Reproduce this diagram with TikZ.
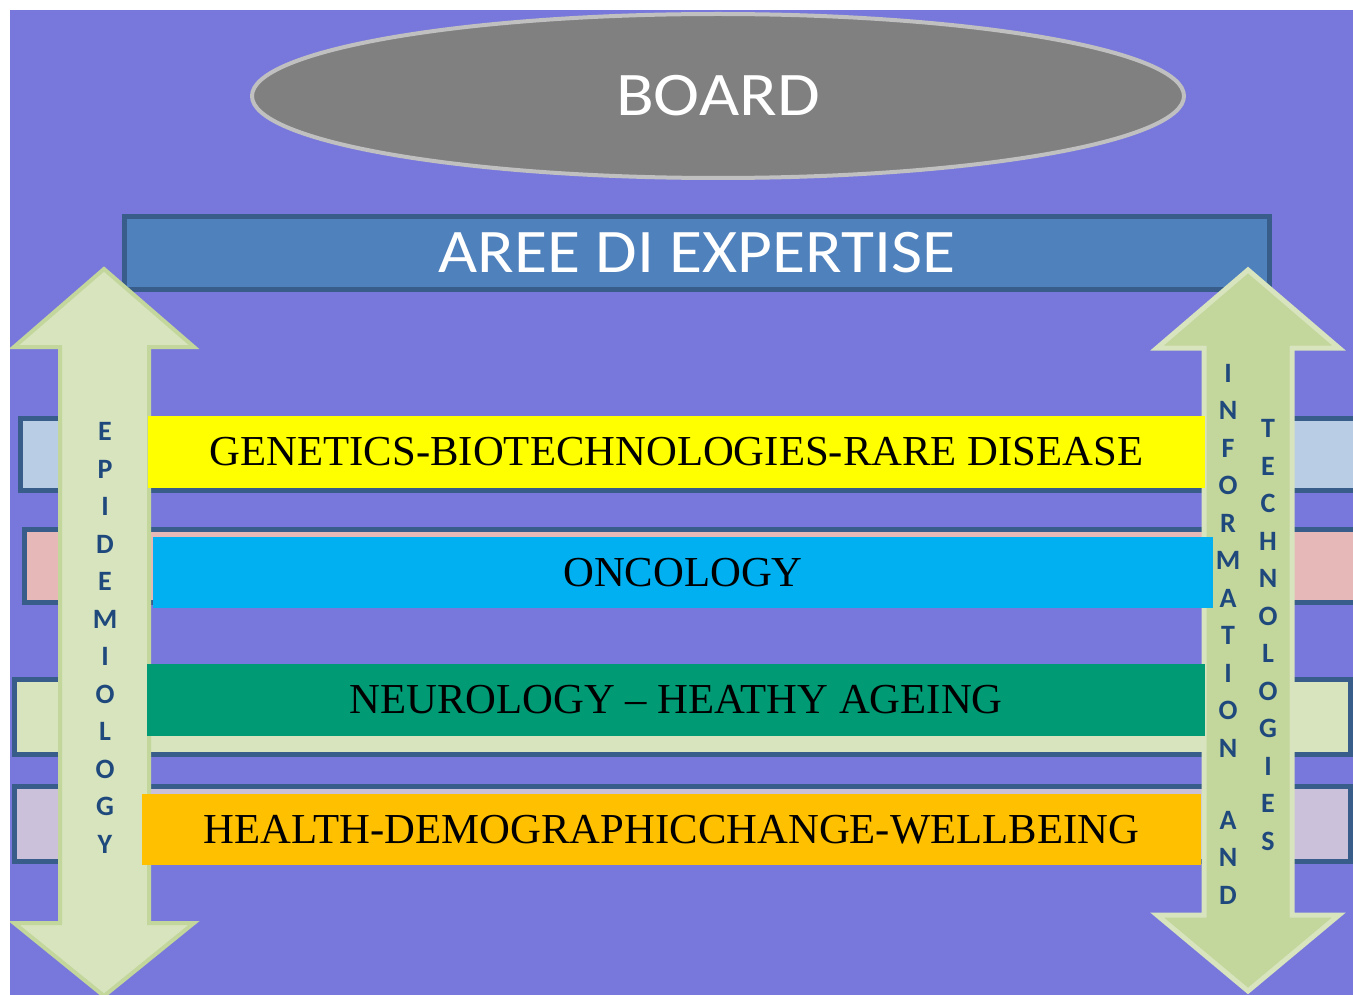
\documentclass[tikz,border=0pt]{standalone}
\usepackage{graphicx}
\usepackage{fontspec}
\setmainfont{Liberation Serif}
\newfontfamily\carl{Carlito}
\usetikzlibrary{shapes.geometric}
\definecolor{bgpurple}{HTML}{7878DC}
\definecolor{ellfill}{HTML}{808080}
\definecolor{ellborder}{HTML}{C0C0C0}
\definecolor{areefill}{HTML}{4F81BD}
\definecolor{darkborder}{HTML}{385D8A}
\definecolor{lblue}{HTML}{B9CDE5}
\definecolor{lpink}{HTML}{E6B9B8}
\definecolor{lgreen}{HTML}{D7E4BD}
\definecolor{lgreenb}{HTML}{C3D69B}
\definecolor{llav}{HTML}{CCC1DA}
\definecolor{letterblue}{HTML}{1F497D}
\definecolor{barblue}{HTML}{00B0F0}
\definecolor{bargreen}{HTML}{009A74}
\definecolor{barorange}{HTML}{FFC000}
\definecolor{baryellow}{HTML}{FFFF00}
\tikzset{
  bgbar/.style={draw=darkborder, line width=5pt},
  mainbar/.style={rectangle, inner sep=0pt, text=black, font=\fontsize{42.7}{43}\selectfont},
  vletter/.style={inner sep=0pt, text=letterblue, font=\carl\bfseries\fontsize{28}{28}\selectfont},
  titletext/.style={text=white, font=\carl\fontsize{62}{62}\selectfont}
}
\begin{document}
\begin{tikzpicture}[x=1pt,y=-1pt]
\useasboundingbox (0,0) rectangle (1353,995);
\fill[white] (0,0) rectangle (1353,995);
\begin{scope}
\clip (10,10) rectangle (1353,995);
\fill[bgpurple] (10,10) rectangle (1353,995);
% board
\node[ellipse, draw=ellborder, line width=4pt, fill=ellfill, minimum width=932pt, minimum height=164pt, inner sep=0pt, titletext] (board) at (718,96) {\scalebox{1.12}[1]{BOARD}};
% aree di expertise
\node[rectangle, draw=darkborder, line width=5pt, fill=areefill, minimum width=1145pt, minimum height=73pt, inner sep=0pt, titletext] (aree) at (697,253) {\scalebox{1.09}[1]{AREE DI EXPERTISE}};
% background bars
\draw[bgbar, fill=lblue] (20.5,418.5) rectangle (1370,490.5);
\draw[bgbar, fill=lpink] (24.5,529.5) rectangle (1370,602.5);
\draw[bgbar, fill=lgreen] (14.5,679.5) rectangle (1350.5,754.5);
\draw[bgbar, fill=llav] (14.5,786.5) rectangle (1350.5,861.5);
% left double arrow
\draw[draw=lgreenb, fill=lgreen, line width=4pt]
  (104,269) -- (194,347) -- (149,347) -- (149,923) -- (194,923) -- (104,996)
  -- (14,923) -- (60,923) -- (60,347) -- (14,347) -- cycle;
% right double arrow
\draw[draw=lgreen, fill=lgreenb, line width=5pt]
  (1248,270) -- (1339,348) -- (1292,348) -- (1292,915) -- (1339,915) -- (1248,991)
  -- (1157,915) -- (1204,915) -- (1204,348) -- (1157,348) -- cycle;
% vertical letters
\foreach \l [count=\i from 0] in {E,P,I,D,E,M,I,O,L,O,G,Y}
  \node[vletter] (epi\i) at (105,{431.5+37.5*\i}) {\l};
\foreach \l [count=\i from 0] in {I,N,F,O,R,M,A,T,I,O,N}
  \node[vletter] (inf\i) at (1228,{373+37.5*\i}) {\l};
\node[vletter] (and0) at (1228,820) {A};
\node[vletter] (and1) at (1228,857.5) {N};
\node[vletter] (and2) at (1228,895) {D};
\foreach \l [count=\i from 0] in {T,E,C,H,N,O,L,O,G,I,E,S}
  \node[vletter] (tec\i) at (1268,{428.5+37.5*\i}) {\l};
% main bars
\node[mainbar, fill=baryellow, minimum width=1057pt, minimum height=72pt] (gen) at (676.5,452) {GENETICS-BIOTECHNOLOGIES-RARE DISEASE};
\node[mainbar, fill=barblue, minimum width=1060pt, minimum height=71pt] (onc) at (683,572.5) {ONCOLOGY};
\node[mainbar, fill=bargreen, minimum width=1058pt, minimum height=72pt] (neu) at (676,700) {NEUROLOGY – HEATHY AGEING};
\node[mainbar, fill=barorange, minimum width=1059pt, minimum height=71pt] (hea) at (671.5,829.5) {HEALTH-DEMOGRAPHICCHANGE-WELLBEING};
\end{scope}
\end{tikzpicture}
\end{document}
